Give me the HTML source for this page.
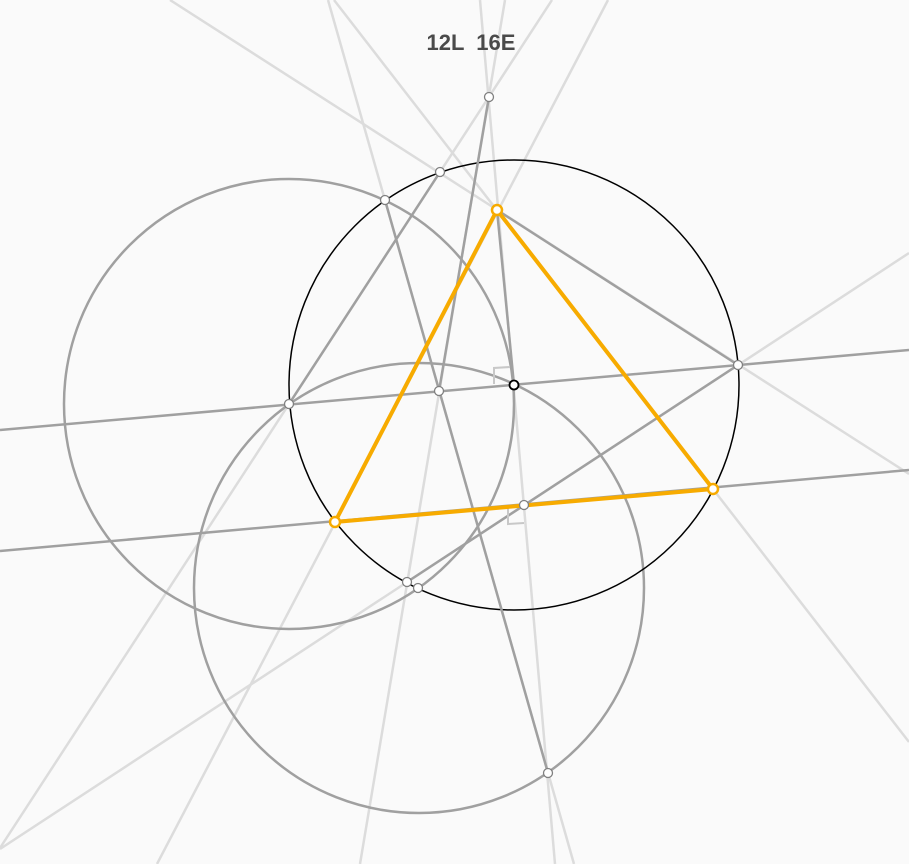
<!DOCTYPE html>
<html><head><meta charset="utf-8"><style>
html,body{margin:0;padding:0;background:#fafafa;}
svg{display:block;}
</style></head><body>
<svg id="c" width="909" height="864" viewBox="0 0 909 864">
<rect width="909" height="864" fill="#fafafa"/>
<g id="light"></g><g id="circles"></g><g id="dark"></g><g id="marks"></g><g id="tri"></g><g id="pts"></g>
<text x="471" y="50" text-anchor="middle" style="white-space:pre" font-family="'Liberation Sans',sans-serif" font-weight="bold" font-size="22" fill="#4a4a4a">12L  16E</text>
</svg>
<script>
const NS='http://www.w3.org/2000/svg';
const lightLines=[[328,0,574,864],[505,0,360,864],[552,0,0,848],[170,0,909,474],[480,0,555,864],[334,0,909,742],[608,0,157,864],[909,253,0,849]];
const darkLines=[[0,430,909,350],[0,551,909,470],[385,200,548,773],[489,97,439,391],[440,172,289,404],[497,210,738,365],[497,210,514,385],[738,365,407,582]];
const circles=[[289,404,225,'#a0a0a0',2.5],[419,588,225,'#a0a0a0',2.5],[514,385,225,'#000',1.5]];
const triangle=[[497,210],[335,522],[713,489]];
const points=[[489,97],[440,172],[385,200],[289,404],[439,391],[738,365],[524,505],[407,582],[418,588],[548,773]];
function mk(tag,attrs,parent){const e=document.createElementNS(NS,tag);for(const k in attrs)e.setAttribute(k,attrs[k]);document.getElementById(parent).appendChild(e);return e;}
lightLines.forEach(l=>{const e=mk('line',{x1:l[0],y1:l[1],x2:l[2],y2:l[3],stroke:'#dcdcdc','stroke-width':2.5},'light');

});
circles.forEach(c=>{const e=mk('circle',{cx:c[0],cy:c[1],r:c[2],fill:'none',stroke:c[3],'stroke-width':c[4]},'circles');

});
darkLines.forEach(l=>{const e=mk('line',{x1:l[0],y1:l[1],x2:l[2],y2:l[3],stroke:'#a0a0a0','stroke-width':2.5},'dark');

});
const m1=mk('polyline',{points:'494,384 494,368 510,367',fill:'none',stroke:'#c8c8c8','stroke-width':2},'marks');


const m2=mk('polyline',{points:'508,507 508,524 524,523',fill:'none',stroke:'#c8c8c8','stroke-width':2},'marks');


const tp=mk('polygon',{points:triangle.map(p=>p.join(',')).join(' '),fill:'none',stroke:'#f7ab00','stroke-width':4,'stroke-linejoin':'round'},'tri');


points.forEach(p=>{const e=mk('circle',{cx:p[0],cy:p[1],r:4.5,fill:'#fff',stroke:'#808080','stroke-width':1.3},'pts');

});
const cc=mk('circle',{cx:514,cy:385,r:4.5,fill:'#fff',stroke:'#000','stroke-width':1.8},'pts');


triangle.forEach(p=>{const e=mk('circle',{cx:p[0],cy:p[1],r:5,fill:'#fff',stroke:'#f7ab00','stroke-width':2.5},'pts');

});
</script>
</body></html>
